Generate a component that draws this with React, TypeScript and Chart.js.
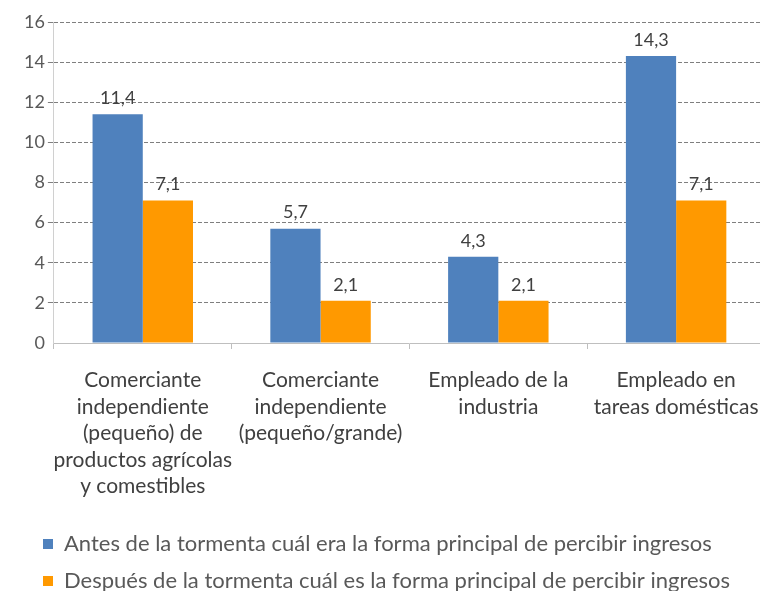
import React, { useEffect, useRef } from "react";
import { Chart, registerables } from "chart.js";

Chart.register(...registerables);

const categories: string[][] = [
  ["Comerciante", "independiente", "(pequeño) de", "productos agrícolas", "y comestibles"],
  ["Comerciante", "independiente", "(pequeño/grande)"],
  ["Empleado de la", "industria"],
  ["Empleado en", "tareas domésticas"],
];
const seriesNames = [
  "Antes de la tormenta cuál era la forma principal de percibir ingresos",
  "Después de la tormenta cuál es la forma principal de percibir ingresos",
];
const antes = [11.4, 5.7, 4.3, 14.3];
const despues = [7.1, 2.1, 2.1, 7.1];
const yMin = 0;
const yMax = 16;
const yStep = 2;

const FONT = "Lato, 'Open Sans', sans-serif";

const valueLabels = {
  id: "valueLabels",
  afterDatasetsDraw(chart: any) {
    const ctx = chart.ctx;
    ctx.save();
    ctx.font = `18px ${FONT}`;
    ctx.fillStyle = "#404040";
    ctx.textAlign = "center";
    ctx.textBaseline = "bottom";
    chart.data.datasets.forEach((ds: any, i: number) => {
      const meta = chart.getDatasetMeta(i);
      meta.data.forEach((bar: any, j: number) => {
        const v = ds.data[j];
        ctx.fillText(String(v.toFixed(1)).replace(".", ","), bar.x, bar.y - 7);
      });
    });
    ctx.restore();
  },
};

const legendShift = {
  id: "legendShift",
  afterLayout(chart: any) {
    if (chart.legend) {
      chart.legend.left += 7;
      chart.legend.right += 7;
    }
  },
};

export default function App() {
  const ref = useRef<HTMLCanvasElement>(null);
  useEffect(() => {
    if (!ref.current) return;
    const chart = new Chart(ref.current, {
      type: "bar",
      data: {
        labels: categories,
        datasets: [
          { label: seriesNames[0], data: antes, backgroundColor: "#4f81bd", categoryPercentage: 0.565, barPercentage: 1 },
          { label: seriesNames[1], data: despues, backgroundColor: "#ff9900", categoryPercentage: 0.565, barPercentage: 1 },
        ],
      },
      options: {
        responsive: false,
        animation: false,
        layout: { padding: { left: 21, top: 22, right: 5, bottom: 3 } },
        plugins: {
          tooltip: { enabled: false },
          legend: {
            position: "bottom",
            align: "start",
            labels: {
              boxWidth: 10,
              boxHeight: 10,
              padding: 15,
              color: "#595959",
              font: { family: FONT, size: 22 },
            },
          },
        },
        scales: {
          x: {
            grid: { display: true, drawOnChartArea: false, color: "#bfbfbf", tickLength: 6 },
            border: { display: true, color: "#bfbfbf", width: 1 },
            ticks: {
              color: "#404040",
              padding: 18,
              maxRotation: 0,
              autoSkip: false,
              font: { family: FONT, size: 21, lineHeight: "26.5px" as any },
            },
            afterFit: (s: any) => {
              s.height = 175;
              s.paddingLeft = 0;
              s.paddingRight = 0;
            },
          },
          y: {
            min: yMin,
            max: yMax,
            ticks: {
              stepSize: yStep,
              color: "#595959",
              padding: 3,
              font: { family: FONT, size: 18 },
            },
            grid: {
              color: (c: any) => (c.tick && c.tick.value === 0 ? "rgba(0,0,0,0)" : "#7f7f7f"),
              tickLength: 6,
              lineWidth: 1,
            },
            border: { display: true, color: "#d0d0d0", width: 1, dash: [4, 2] },
          },
        },
      },
      plugins: [valueLabels, legendShift],
    });
    return () => chart.destroy();
  }, []);
  return (
    <div style={{ position: "absolute", left: 0, top: 0, width: 760, height: 591, overflow: "hidden", background: "#fff" }}>
      <canvas ref={ref} width={770} height={605} style={{ width: 770, height: 605, display: "block" }} />
    </div>
  );
}
